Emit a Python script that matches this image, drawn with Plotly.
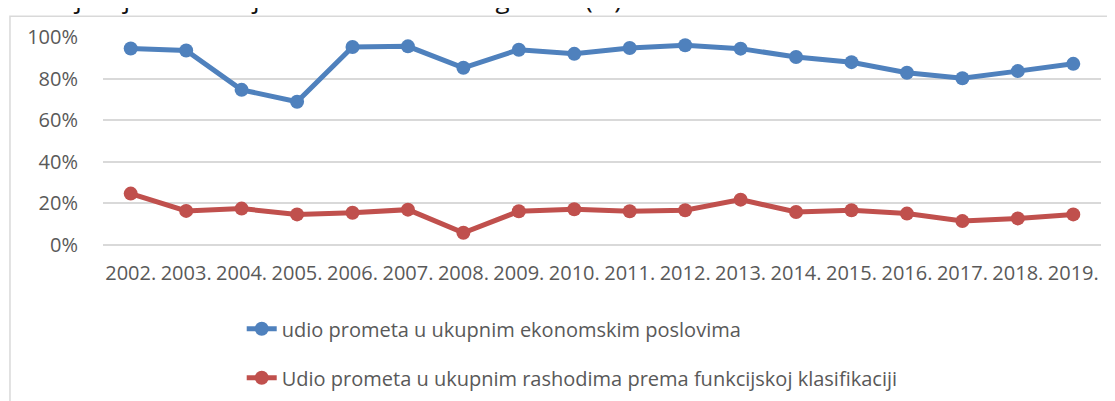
import plotly.graph_objects as go

# =========================
# Data
# =========================
years = ["2002.", "2003.", "2004.", "2005.", "2006.", "2007.", "2008.", "2009.", "2010.",
         "2011.", "2012.", "2013.", "2014.", "2015.", "2016.", "2017.", "2018.", "2019."]

udio_ekonomski = [94.5, 93.5, 74.6, 68.9, 95.2, 95.5, 85.2, 93.9, 91.9,
                  94.7, 96.0, 94.4, 90.4, 87.9, 82.8, 80.2, 83.6, 87.1]

udio_rashodi = [24.7, 16.4, 17.5, 14.7, 15.5, 17.0, 5.9, 16.2, 17.2,
                16.2, 16.7, 21.8, 15.9, 16.7, 15.1, 11.5, 12.8, 14.7]

names = ["udio prometa u ukupnim ekonomskim poslovima",
         "Udio prometa u ukupnim rashodima prema funkcijskoj klasifikaciji"]
colors = ["#4F81BD", "#C0504D"]

FONT = "Open Sans, Liberation Sans, sans-serif"

# =========================
# Traces
# =========================
fig = go.Figure()
for i, (vals, name) in enumerate(zip([udio_ekonomski, udio_rashodi], names)):
    fig.add_trace(go.Scatter(
        x=years, y=vals, name=name,
        mode="lines+markers",
        line=dict(color=colors[i], width=5),
        marker=dict(color=colors[i], size=14),
        legendgroup=f"g{i}",
    ))

# chart border (clipped by the window like the original)
fig.add_shape(type="rect", xref="paper", yref="paper",
              x0=-0.0932, x1=1.04, y0=-0.8, y1=1.1,
              line=dict(color="#d9d9d9", width=1.5), fillcolor="rgba(0,0,0,0)",
              layer="below")

# title, cut off at the top of the window
fig.add_annotation(xref="paper", yref="paper", x=-0.103, y=1.09,
                   xanchor="left", yanchor="bottom", showarrow=False,
                   text="funkcijskoj klasifikaciji od 2002. do 2019. godine (%)",
                   font=dict(family=FONT, size=26, color="#111111"))

# =========================
# Layout
# =========================
# margins allow for the 8px page margin around the plot div
fig.update_layout(
    width=1115, height=401,
    margin=dict(l=95, r=22, t=29, b=162),
    paper_bgcolor="white", plot_bgcolor="white",
    font=dict(family=FONT, color="#595959", size=20),
    xaxis=dict(type="category", range=[-0.5, 17.5], showgrid=False,
               showline=False, ticks="", tickfont=dict(size=20, color="#595959"),
               tickangle=0, ticklabelstandoff=14, automargin=False),
    yaxis=dict(range=[0, 100], dtick=20, ticksuffix="%", showgrid=True,
               gridcolor="#d9d9d9", gridwidth=1.5, zeroline=True,
               zerolinecolor="#d9d9d9", zerolinewidth=1.5,
               ticklabelstandoff=24, tickfont=dict(size=20, color="#595959"),
               automargin=False),
    showlegend=True,
    legend=dict(x=0.139, y=-0.309, xanchor="left", yanchor="top",
                orientation="v", traceorder="grouped", tracegroupgap=20,
                font=dict(size=20, color="#595959"), itemwidth=30,
                bgcolor="rgba(0,0,0,0)"),
)

fig.write_html("out.html")
